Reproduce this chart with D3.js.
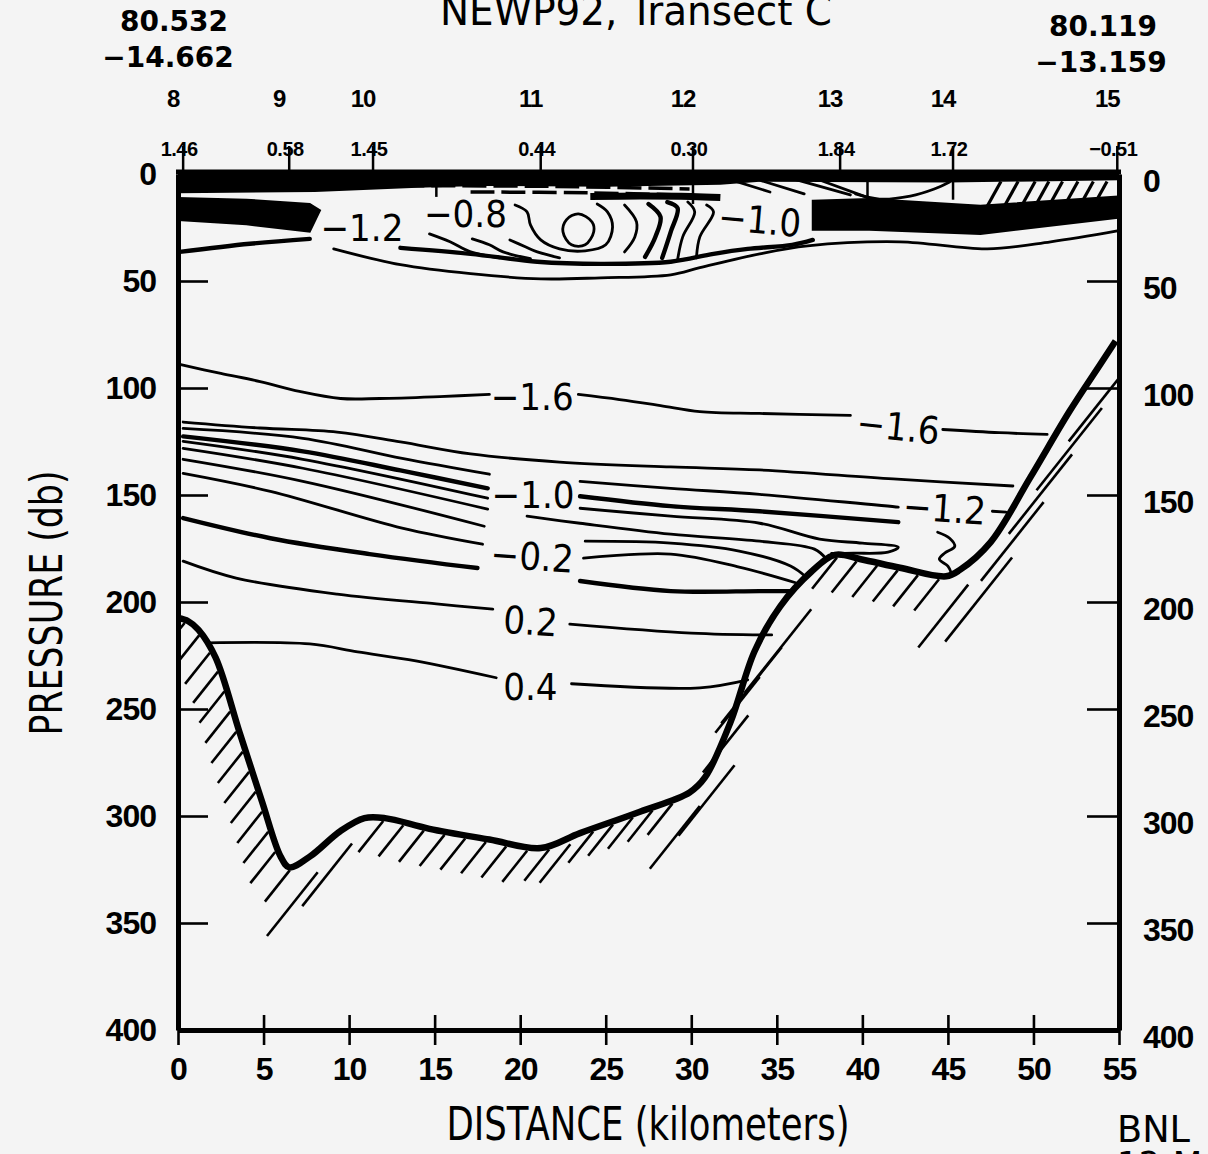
<!DOCTYPE html>
<html>
<head>
<meta charset="utf-8">
<script src="https://cdn.jsdelivr.net/npm/d3@7"></script>
<style>
body { margin: 0; background: #f4f4f4; }
svg { display: block; }
</style>
</head>
<body>
<script>
// ---------- data (distance km, pressure db) ----------
var xTicks = [0, 5, 10, 15, 20, 25, 30, 35, 40, 45, 50, 55];
var yTicks = [0, 50, 100, 150, 200, 250, 300, 350, 400];

var stations   = ["8", "9", "10", "11", "12", "13", "14", "15"];
var stationKm  = [0.3, 6.5, 11.4, 21.2, 30.1, 38.7, 45.3, 54.9];
var stationVal = ["1.46", "0.58", "1.45", "0.44", "0.30", "1.84", "1.72", "\u22120.51"];
var startPos = ["80.532", "\u221214.662"];
var endPos   = ["80.119", "\u221213.159"];

// sea floor
var bottom = [[0,207.5],[0.6,209],[1.2,213],[2.2,226],[3.6,261],[4.9,293],[6,319],[6.5,324],[7.7,319],
  [9.5,307],[10.9,301],[12.1,301],[14.7,306],[18.2,311],[21.2,315],[23.5,308],[27,298],[29.9,289],
  [30.8,282],[32.3,256],[33.7,223],[35.2,202],[37,186],[38.4,178],[39.9,180],[42.2,184],[44.9,188],
  [45.7,185],[47.5,172],[49.8,142],[52.1,111],[53.9,89],[54.8,78]];

// isolines below the surface layer
var cM16a = [[0.1,89],[2.5,93.2],[4.8,97],[7.1,101.6],[9.5,104.9],[11.8,104.9],[15.3,104],[18.2,103]];
var cM16b = [[23.4,103],[25.8,105.4],[28.2,108.2],[30.5,111],[34,111.9],[39.3,112.8]];
var cM16c = [[44.7,119.4],[48,120.9],[50.8,121.7]];
var cM14  = [[0.3,115.9],[4.8,118.7],[9.3,120.6],[13,125.2],[17.1,130.8],[22.3,134.6],[28.8,136.9],[34,138.3],[41.8,142.5],[48.8,145.8]];
var c1a = [[0.3,118.9],[7.3,123.5],[13.1,132.9],[18.2,140.3]];
var c1b = [[23.5,143.6],[28.8,146.9],[34,149.7],[42.1,155.7]];
var c1c = [[47.6,157.6],[48.4,158]];
var c2a = [[0.3,122.6],[7.3,129.6],[13,138.5],[18.1,146.9]];
var c2b = [[23.5,150.6],[28.8,155.2],[34,157.6],[42.1,162.7]];
var c3a = [[0.3,124.9],[7.3,133.3],[18.1,151.5]];
var c3b = [[23.5,156.2],[28.8,159.9],[34,163.2],[37.5,170.6],[40,172.5],[42.1,174.4],[41.5,176.7],[39.5,177.2],[38.2,177.3]];
var c4a = [[0.3,128.2],[7.3,137.5],[18.1,156.6]];
var c4b = [[20.4,159.9],[23.5,163.2],[28.8,168.3],[34,171.6],[37.2,175.3],[37.9,180]];
var c5a = [[0.3,133.3],[7.3,143.6],[17.9,164.6]];
var c5b = [[23.8,171.6],[28.8,172.5],[32.8,176.2],[35.8,183.2],[36.7,188.3]];
var c6a = [[0.3,139.9],[5.4,148.3],[13.1,165.5],[17.8,173]];
var c6b = [[23.7,179.5],[28.8,177.6],[32.8,183.7],[36.1,191]];
var c7a = [[0.3,160.8],[5.4,170.2],[11.2,177.6],[17.5,184.1]];
var c7b = [[23.5,190.2],[28.8,194.9],[34,194.9],[35.9,194.9]];
var cP2a = [[0.3,180.9],[3.4,188.8],[9.3,196.3],[15.1,200.9],[18.4,203.3]];
var cP2b = [[22.9,210.3],[30,214.5],[34.7,215.4]];
var cP4a = [[1.7,219.1],[7.7,219.6],[10.5,223.3],[13.9,227.5],[18.6,235.4]];
var cP4b = [[23,238.2],[30.5,240.1],[33.3,236.4]];
var cHook = [[44.4,167.4],[45.1,170.2],[45.4,174],[44.8,177.2],[44.5,180],[45,183.2],[45.2,186.5]];

// surface layer
var tMidA = [[0.1,36.4],[4.2,32.6],[7.7,30.3]];
var tMidB = [[13,34.5],[17.1,37.3],[21,41],[24.7,42],[28.8,41],[31.3,37.3],[33.3,35],[35.9,33.1],[37.1,30.8]];
var tLow  = [[9.1,35],[13,42.4],[17.1,46.6],[21.2,49],[24.7,48.5],[28.8,47.1],[30.5,43.8],[34,37.3],[36.8,33.6],[42.2,31.7],[47.3,35],[51,31.7],[54.9,26.6]];
var g1 = [[14.7,28],[15.9,31.7],[17.1,36.4],[18.8,39.2]];
var g2 = [[17.2,30.3],[18.2,33.1],[19,36.4],[20.6,39.6]];
var g3 = [[19.4,30.8],[20.3,34],[21,36.4],[22.3,39.2]];
var u1 = [[19.7,14.5],[20.4,17.7],[20.6,23.8],[21.2,30.8],[22.3,35],[23.8,35.9],[25,33.1],[25.4,24.7],[25.1,17.7],[24.5,14]];
var eddy = [[23.4,18.6],[24.2,22.4],[24.3,27],[23.8,33.1],[23,33.1],[22.5,27],[22.7,21.4]];
var s2 = [[26.1,14.5],[26.8,22.4],[26.7,29.4],[26.1,36.4]];
var s3 = [[27.5,14],[28.2,20],[27.9,29.4],[27.3,38.7]];
var s4 = [[28.6,13.1],[29.2,15.9],[28.8,27],[28.3,39.2]];
var s5 = [[29.8,13.1],[30.2,17.7],[29.5,29.4],[29.2,40.1]];
var s6 = [[30.9,14.5],[31.3,17.7],[30.5,29.4],[30.3,39.2]];
var bandLine = [[24.1,10.5],[27,10.3],[30,10.5],[31.7,11]];
var dash1 = [[8.9,3.3],[20,3.4],[30.5,3.3]];
var dash2 = [[13,5.4],[22,5.8],[29.9,7]];
var dash3 = [[17.1,8.4],[24,8.8],[29.3,9.8]];
var slant1 = [[32,1.9],[34.6,8.4]];
var slant2 = [[33.4,1.4],[36.6,9.3]];
var slant3 = [[35.8,1.9],[39.3,9.8]];
var slant4 = [[37.5,2.8],[40.2,10.7]];
var shallow = [[39.6,9.3],[41,11.7],[42.8,10.3],[44.2,7],[45.1,3.7]];
var streakKm = [48.1, 49.1, 50.1, 50.9, 51.7, 52.6, 53.5, 54.3];
var castKm = [15.1, 30.1, 40.3, 45.3];
var castDb = [10.7, 14, 12, 12];

// dense (merged) isoline bands
var topBand = [[0,0],[55,0],[55,2.5],[45,3.5],[34,3.2],[31.7,4.5],[25,5.5],[18,5],[14,6],[8,8],[0,8.5]];
var leftWedge = [[0,11.2],[4,12],[7.7,14],[8.3,17],[7.7,27],[4,23.5],[0,21.5]];
var rightLens = [[37.1,12.5],[40.4,11.7],[46.9,14.8],[54.9,10.5],[54.9,20.5],[46.9,28],[40.4,26],[37.1,26]];

var labelText = ["\u22121.6", "\u22121.6", "\u22121.0", "\u22120.2", "0.2", "0.4", "\u22121.2", "\u22121.2", "\u22120.8", "\u22121.0"];
var labelPos  = [[20.7,104],[42.1,118],[20.75,149.7],[20.7,178.6],[20.6,208.9],[20.6,239.2],[44.8,156.2],[10.75,24.7],[16.8,18.6],[34,21.4]];
var labelRot  = [0, 6, 0, 4, 4, 0, 4, 0, 0, 5];

// ---------- drawing ----------
var W = 1208, H = 1154;
var tickFont = "'Liberation Sans','Arial',sans-serif";
var cond = "'DejaVu Sans Condensed','Liberation Sans Narrow',sans-serif";

var svg = d3.select("body").append("svg").attr("width", W).attr("height", H);
svg.append("rect").attr("width", W).attr("height", H).attr("fill", "#f4f4f4");

var x = d3.scaleLinear().domain([0, 55]).range([178, 1119]);
var y = d3.scaleLinear().domain([0, 400]).range([174, 1030]);

var line = d3.line().x(function(d) { return x(d[0]); }).y(function(d) { return y(d[1]); })
    .curve(d3.curveCatmullRom.alpha(0.5));
var loop = d3.line().x(function(d) { return x(d[0]); }).y(function(d) { return y(d[1]); })
    .curve(d3.curveCatmullRomClosed.alpha(0.5));
var poly = d3.line().x(function(d) { return x(d[0]); }).y(function(d) { return y(d[1]); })
    .curve(d3.curveLinearClosed);

svg.append("clipPath").attr("id", "plot").append("rect")
    .attr("x", 178).attr("y", 172).attr("width", 941).attr("height", 858);
var plot = svg.append("g").attr("clip-path", "url(#plot)");

// merged bands
[topBand, leftWedge, rightLens].forEach(function(b) {
    plot.append("path").attr("d", poly(b)).attr("fill", "#000").attr("stroke", "#000").attr("stroke-width", 2);
});

var thin = [cM16a, cM16b, cM16c, cM14, c1a, c1b, c1c, c3a, c3b, c4a, c4b, c5a, c5b, c6a, c6b,
            cP2a, cP2b, cP4a, cP4b, cHook, tLow, g1, g2, g3, u1, s2, s5, s6,
            slant1, slant2, slant3, slant4, shallow];
var thick = [c2a, c2b, c7a, c7b, tMidA, tMidB, s3, s4];

plot.selectAll("path.thin").data(thin).enter().append("path").attr("class", "thin")
    .attr("d", line).attr("fill", "none").attr("stroke", "#000").attr("stroke-width", 2.8)
    .attr("stroke-linecap", "round");
plot.selectAll("path.thick").data(thick).enter().append("path").attr("class", "thick")
    .attr("d", line).attr("fill", "none").attr("stroke", "#000").attr("stroke-width", 4.4)
    .attr("stroke-linecap", "round");
plot.append("path").attr("d", loop(eddy)).attr("fill", "none").attr("stroke", "#000").attr("stroke-width", 2.8);
plot.append("path").attr("d", line(bandLine)).attr("fill", "none").attr("stroke", "#000").attr("stroke-width", 7);

plot.selectAll("path.dash").data([dash1, dash2, dash3]).enter().append("path").attr("class", "dash")
    .attr("d", line).attr("fill", "none").attr("stroke", "#000").attr("stroke-width", 3.5)
    .attr("stroke-dasharray", "24,7");

// near-vertical isolines meeting the surface on the right
plot.selectAll("line.streak").data(streakKm).enter().append("line").attr("class", "streak")
    .attr("x1", function(d) { return x(d); }).attr("y1", y(3.5))
    .attr("x2", function(d) { return x(d - 0.9); }).attr("y2", y(16.5))
    .attr("stroke", "#000").attr("stroke-width", 3.2);

plot.selectAll("line.cast").data(castKm).enter().append("line").attr("class", "cast")
    .attr("x1", function(d) { return x(d); }).attr("x2", function(d) { return x(d); })
    .attr("y1", y(0)).attr("y2", function(d, i) { return y(castDb[i]); })
    .attr("stroke", "#000").attr("stroke-width", 2.5);

// sea floor and hatching
var floor = plot.append("path").attr("d", line(bottom)).attr("fill", "none")
    .attr("stroke", "#000").attr("stroke-width", 6.5).attr("stroke-linejoin", "round");
var node = floor.node(), total = node.getTotalLength();
var hd = [-0.62, 0.78];
var s = 8;
while (s < total) {
    var p = node.getPointAtLength(s), q = node.getPointAtLength(Math.min(total, s + 2));
    var tx = q.x - p.x, ty = q.y - p.y, tl = Math.hypot(tx, ty) || 1;
    tx /= tl; ty /= tl;
    var nx = -ty, ny = tx;
    var par = Math.abs(tx * hd[0] + ty * hd[1]);
    var f = Math.max(0, par - 0.88) / 0.12;
    var off = 3 + 24 * f, len = 40 + 70 * f;
    var sx = p.x + nx * off, sy = p.y + ny * off;
    plot.append("line").attr("x1", sx).attr("y1", sy)
        .attr("x2", sx + hd[0] * len).attr("y2", sy + hd[1] * len)
        .attr("stroke", "#000").attr("stroke-width", 2.6);
    s += 21 + 40 * f;
}

// isoline labels
labelText.forEach(function(t, i) {
    var px = x(labelPos[i][0]), py = y(labelPos[i][1]);
    svg.append("text").attr("x", px).attr("y", py).attr("dy", "0.36em")
        .attr("text-anchor", "middle")
        .attr("transform", "rotate(" + labelRot[i] + "," + px + "," + py + ")")
        .attr("font-family", cond).attr("font-size", 38).attr("fill", "#000").text(t);
});

// axes
function styleTicks(g) {
    g.select(".domain").attr("stroke-width", 5).attr("stroke", "#000");
    g.selectAll(".tick line").attr("stroke-width", 2.6).attr("stroke", "#000");
    g.selectAll(".tick text").attr("font-family", tickFont).attr("font-weight", "bold")
        .attr("font-size", 32).attr("letter-spacing", -1).attr("fill", "#000");
}
var gx = svg.append("g").attr("transform", "translate(0,1030)")
    .call(d3.axisBottom(x).tickValues(xTicks).tickSize(15).tickSizeOuter(0).tickPadding(12));
styleTicks(gx);
gx.selectAll(".tick line").attr("y1", -15);

var gl = svg.append("g").attr("transform", "translate(178,0)")
    .call(d3.axisLeft(y).tickValues(yTicks).tickSize(-30).tickSizeOuter(0).tickPadding(22));
styleTicks(gl);
var gr = svg.append("g").attr("transform", "translate(1119,0)")
    .call(d3.axisRight(y).tickValues(yTicks).tickSize(-32).tickSizeOuter(0).tickPadding(24));
styleTicks(gr);
gr.selectAll(".tick text").attr("dy", "0.55em");

svg.append("line").attr("x1", 176).attr("x2", 1121).attr("y1", 172).attr("y2", 172)
    .attr("stroke", "#000").attr("stroke-width", 5);

// stations along the top
var gs = svg.append("g");
stations.forEach(function(st, i) {
    var sx = x(stationKm[i]);
    gs.append("text").attr("x", sx - 10).attr("y", 107).attr("text-anchor", "middle")
        .attr("font-family", tickFont).attr("font-weight", "bold").attr("font-size", 24)
        .attr("letter-spacing", -1).text(st);
    gs.append("text").attr("x", sx - 4).attr("y", 156).attr("text-anchor", "middle")
        .attr("font-family", tickFont).attr("font-weight", "bold").attr("font-size", 20)
        .attr("letter-spacing", -0.5).text(stationVal[i]);
    gs.append("line").attr("x1", sx).attr("x2", sx).attr("y1", 146).attr("y2", 172)
        .attr("stroke", "#000").attr("stroke-width", 2.5);
});

var bold = "'DejaVu Sans',sans-serif";
svg.append("text").attr("x", 174).attr("y", 31).attr("text-anchor", "middle")
    .attr("font-family", bold).attr("font-weight", "bold").attr("font-size", 28).text(startPos[0]);
svg.append("text").attr("x", 168).attr("y", 67).attr("text-anchor", "middle")
    .attr("font-family", bold).attr("font-weight", "bold").attr("font-size", 28).text(startPos[1]);
svg.append("text").attr("x", 1103).attr("y", 36).attr("text-anchor", "middle")
    .attr("font-family", bold).attr("font-weight", "bold").attr("font-size", 28).text(endPos[0]);
svg.append("text").attr("x", 1101).attr("y", 72).attr("text-anchor", "middle")
    .attr("font-family", bold).attr("font-weight", "bold").attr("font-size", 28).text(endPos[1]);

// titles
svg.append("text").attr("x", 636).attr("y", 25).attr("text-anchor", "middle")
    .attr("font-family", cond).attr("font-size", 40)
    .attr("textLength", 392).attr("lengthAdjust", "spacingAndGlyphs").text("NEWP92, Transect C");
svg.append("text").attr("x", 648).attr("y", 1140).attr("text-anchor", "middle")
    .attr("font-family", cond).attr("font-size", 46)
    .attr("textLength", 403).attr("lengthAdjust", "spacingAndGlyphs").text("DISTANCE (kilometers)");
svg.append("text").attr("transform", "translate(62,603) rotate(-90)").attr("text-anchor", "middle")
    .attr("font-family", cond).attr("font-size", 44)
    .attr("textLength", 265).attr("lengthAdjust", "spacingAndGlyphs").text("PRESSURE (db)");
svg.append("text").attr("x", 1117).attr("y", 1142)
    .attr("font-family", cond).attr("font-size", 38)
    .attr("textLength", 73).attr("lengthAdjust", "spacingAndGlyphs").text("BNL");
svg.append("text").attr("x", 1117).attr("y", 1178)
    .attr("font-family", cond).attr("font-size", 38).text("12-MAY-93");
</script>
</body>
</html>
